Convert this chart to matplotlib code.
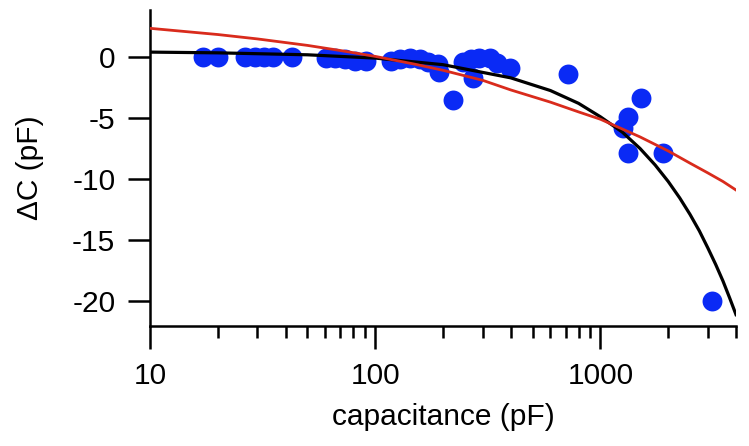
import matplotlib
matplotlib.use("Agg")
import matplotlib.pyplot as plt
from matplotlib.ticker import LogLocator, FixedLocator, NullFormatter, FuncFormatter

plt.rcParams['font.family'] = ['Liberation Sans', 'DejaVu Sans']
plt.rcParams['axes.unicode_minus'] = False

# measured data points (capacitance pF, delta C pF)
cap_pf = [17.2, 20.0, 26.4, 29.3, 32.1, 35.2, 42.8,
          60.5, 66.4, 73.6, 81.5, 91.2,
          117, 129, 143, 158, 172,
          190, 192, 222,
          246, 265, 273, 290, 324, 349, 398,
          721,
          1264, 1331, 1521, 1331, 1888,
          3133]
delta_c = [0, 0, 0, 0, 0, 0, 0,
           -0.1, -0.1, -0.2, -0.3, -0.3,
           -0.3, -0.2, -0.1, -0.2, -0.4,
           -0.6, -1.2, -3.5,
           -0.4, -0.2, -1.7, -0.1, -0.1, -0.5, -0.9,
           -1.4,
           -5.8, -4.9, -3.4, -7.9, -7.9,
           -20.0]

# black fit curve
black_x = [10, 20, 50, 100, 200, 400, 600, 800, 1000, 1250, 1500, 1750, 2000,
           2250, 2500, 2750, 3000, 3250, 3500, 3750, 4000]
black_y = [0.40, 0.34, 0.18, -0.09, -0.63, -1.71, -2.75, -3.8, -4.9, -6.15,
           -7.5, -8.85, -10.2, -11.55, -12.9, -14.25, -15.65, -17.0,
           -18.35, -19.75, -21.11]

# red fit curve
red_x = [10, 20, 30, 50, 70, 100, 150, 200, 300, 400, 600, 800, 1000, 1500,
         2000, 2500, 3000, 3500, 4000]
red_y = [2.35, 1.84, 1.48, 0.95, 0.53, 0.05, -0.59, -1.09, -1.91, -2.7, -3.7,
         -4.5, -5.1, -6.55, -7.7, -8.7, -9.5, -10.2, -10.9]

y_ticks = [0, -5, -10, -15, -20]
x_ticks = [10, 100, 1000]

W, H = 749, 446
fig = plt.figure(figsize=(W / 100, H / 100), dpi=100)
ax = fig.add_axes([150 / W, 1 - 325.5 / H, (736 - 150) / W, (325.5 - 10) / H])

ax.scatter(cap_pf, delta_c, s=205, color='#0a2af5', linewidths=0, zorder=2)
ax.plot(black_x, black_y, color='black', lw=2.3, zorder=3)
ax.plot(red_x, red_y, color='#d92b1c', lw=2.0, zorder=4)

ax.set_xscale('log')
ax.set_xlim(10, 4000)
ax.set_ylim(-22.0, 3.85)

ax.xaxis.set_major_locator(FixedLocator(x_ticks))
ax.xaxis.set_major_formatter(FuncFormatter(lambda v, p: f"{int(round(v))}"))
ax.xaxis.set_minor_locator(LogLocator(base=10, subs=range(2, 10), numticks=20))
ax.xaxis.set_minor_formatter(NullFormatter())
ax.yaxis.set_major_locator(FixedLocator(y_ticks))
ax.yaxis.set_major_formatter(FuncFormatter(lambda v, p: f"{int(round(v))}"))

for s in ['top', 'right']:
    ax.spines[s].set_visible(False)
for s in ['left', 'bottom']:
    ax.spines[s].set_linewidth(1.8)

ax.tick_params(axis='x', which='major', direction='out', length=16.5, width=1.8,
               labelsize=21.5, pad=10)
ax.tick_params(axis='x', which='minor', direction='out', length=8.5, width=1.8)
ax.tick_params(axis='y', which='major', direction='out', length=16, width=1.8,
               labelsize=21.5, pad=9)

ax.set_xlabel('capacitance (pF)', fontsize=21.5, labelpad=9)
ax.set_ylabel('ΔC (pF)', fontsize=21.5, labelpad=20)

fig.savefig('out.png', dpi=100)
